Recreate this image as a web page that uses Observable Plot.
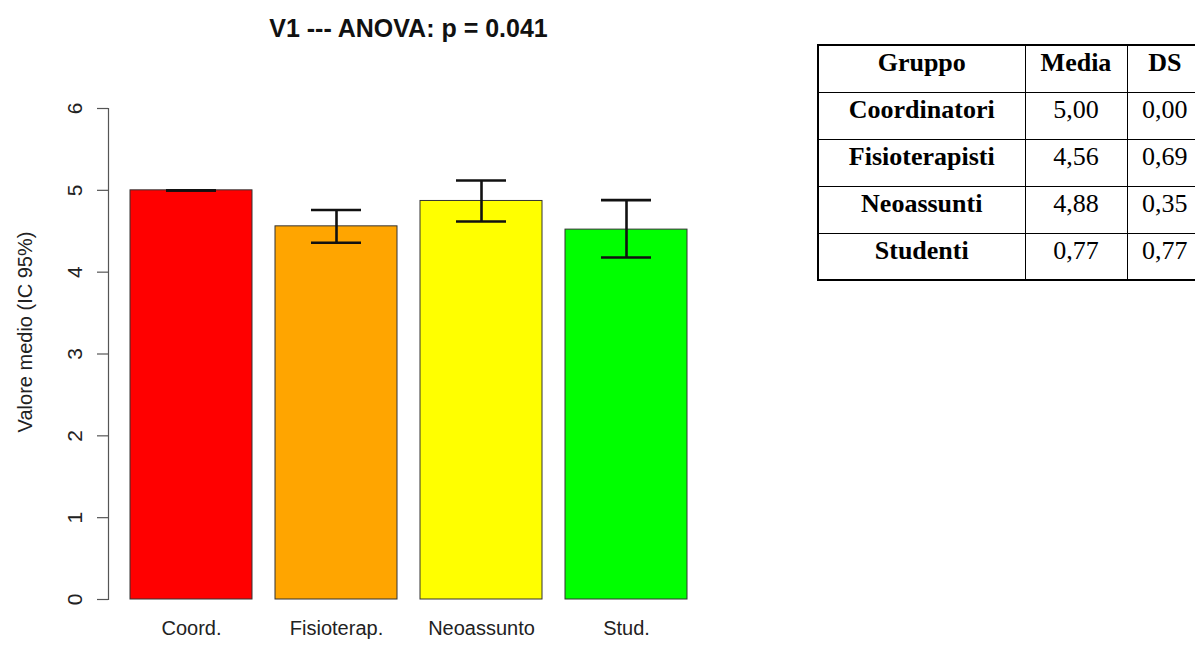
<!DOCTYPE html>
<html>
<head>
<meta charset="utf-8">
<script src="https://cdn.jsdelivr.net/npm/d3@7"></script>
<script src="https://cdn.jsdelivr.net/npm/@observablehq/plot@0.6"></script>
<style>
  html, body { margin: 0; padding: 0; background: #fff; overflow: hidden; }
  #wrap { position: relative; width: 1195px; height: 648px; overflow: hidden;
          font-family: "Liberation Sans", Arial, sans-serif; }
  #chart { position: absolute; left: 0; top: 0; }
  #title { position: absolute; left: 108px; width: 601px; top: 16px; text-align: center;
           font-weight: bold; font-size: 25px; line-height: 25px; color: #111; }
  #ylab { position: absolute; left: 25px; top: 332px; white-space: nowrap;
          transform: translate(-50%, -50%) rotate(-90deg);
          font-size: 20px; line-height: 20px; color: #222; }
  #tbl { position: absolute; left: 817px; top: 44px; width: 385px; border-collapse: collapse;
         table-layout: fixed; font-family: "Liberation Serif", "Times New Roman", serif;
         font-size: 26px; color: #000; }
  #tbl td, #tbl th { border: 1.5px solid #000; height: 47px; box-sizing: border-box;
         padding: 4px 0 0 0; line-height: 26px; vertical-align: top; text-align: center; }
  #tbl tr > *:first-child { font-weight: bold; }
  #tbl th { font-weight: bold; }
  #tbl { border: 2.5px solid #000; }
</style>
</head>
<body>
<div id="wrap">
  <div id="chart"></div>
  <div id="title"></div>
  <div id="ylab"></div>
  <table id="tbl"></table>
</div>
<script>
// ---- chart data ----
const chartTitle = "V1 --- ANOVA: p = 0.041";
const yLabel = "Valore medio (IC 95%)";
const groups = ["Coord.", "Fisioterap.", "Neoassunto", "Stud."];
const means  = [5.00, 4.56, 4.87, 4.52];
const ciLow  = [5.00, 4.36, 4.62, 4.18];
const ciHigh = [5.00, 4.76, 5.12, 4.88];
const yTicks = [0, 1, 2, 3, 4, 5, 6];
const barColors = ["#FF0000", "#FFA500", "#FFFF00", "#00FF00"];

// ---- table data ----
const tableHeader = ["Gruppo", "Media", "DS"];
const tableGroups = ["Coordinatori", "Fisioterapisti", "Neoassunti", "Studenti"];
const tableMeans  = ["5,00", "4,56", "4,88", "0,77"];
const tableSD     = ["0,00", "0,69", "0,35", "0,77"];
const colWidths = [207, 102, 76];

const data = groups.map((g, i) => ({group: g, mean: means[i], lo: ciLow[i], hi: ciHigh[i]}));

const plot = Plot.plot({
  width: 720,
  height: 648,
  marginTop: 108,
  marginBottom: 49,
  marginLeft: 108,
  marginRight: 11,
  style: {fontFamily: "Liberation Sans, Arial, sans-serif", fontSize: "20px", color: "#222", background: "transparent"},
  x: {domain: groups, paddingInner: 0.1586, paddingOuter: 0.1517, align: 0.5},
  y: {domain: [0, 6]},
  color: {domain: groups, range: barColors},
  marks: [
    Plot.frame({anchor: "left", stroke: "#555", strokeWidth: 1.2}),
    Plot.barY(data, {x: "group", y: "mean", fill: "group", stroke: "#333", strokeWidth: 1}),
    Plot.ruleX(data, {x: "group", y1: "lo", y2: "hi", stroke: "#111", strokeWidth: 2.6}),
    Plot.tickY(data, {x: "group", y: "lo", insetLeft: 36, insetRight: 36, stroke: "#111", strokeWidth: 2.6}),
    Plot.tickY(data, {x: "group", y: "hi", insetLeft: 36, insetRight: 36, stroke: "#111", strokeWidth: 2.6}),
    Plot.axisY({ticks: yTicks, tickFormat: d => String(d), tickSize: 11, tickPadding: 16, tickRotate: -90, label: null, fontSize: 21, stroke: "#555", strokeWidth: 1.2}),
    Plot.axisX({tickSize: 0, tickPadding: 21, label: null, fontSize: 20})
  ]
});
document.getElementById("chart").appendChild(plot);
document.getElementById("title").textContent = chartTitle;
document.getElementById("ylab").textContent = yLabel;

// table
const tbl = document.getElementById("tbl");
const cg = document.createElement("colgroup");
colWidths.forEach(w => { const c = document.createElement("col"); c.style.width = w + "px"; cg.appendChild(c); });
tbl.appendChild(cg);
const hr = document.createElement("tr");
tableHeader.forEach(h => { const th = document.createElement("th"); th.textContent = h; hr.appendChild(th); });
tbl.appendChild(hr);
tableGroups.forEach((g, i) => {
  const tr = document.createElement("tr");
  [g, tableMeans[i], tableSD[i]].forEach(v => { const td = document.createElement("td"); td.textContent = v; tr.appendChild(td); });
  tbl.appendChild(tr);
});
</script>
</body>
</html>
